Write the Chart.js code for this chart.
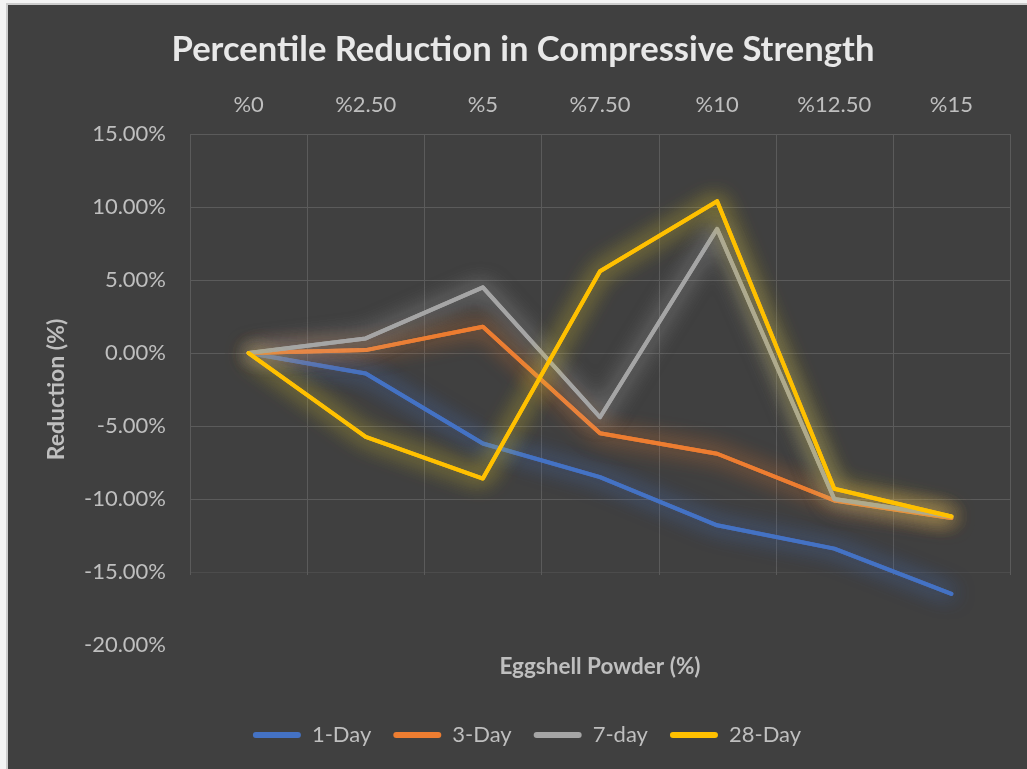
<!DOCTYPE html>
<html>
<head>
<meta charset="utf-8">
<title>Percentile Reduction in Compressive Strength</title>
<script src="https://cdn.jsdelivr.net/npm/chart.js@4.4.1/dist/chart.umd.min.js"></script>
<style>
  html, body { margin: 0; padding: 0; background: #f4f4f4; }
  #frame { position: absolute; left: 6px; top: 3px; width: 1021px; height: 766px; background: #cdcdcd; }
  #wrap { position: absolute; left: 8px; top: 5px; width: 1019px; height: 764px; background: #404040; }
  canvas { display: block; }
</style>
</head>
<body>
<div id="frame"></div>
<div id="wrap"><canvas id="chart" width="1019" height="764"></canvas></div>
<script>
// Eggshell powder replacement levels (x axis, labels at the top)
const categories = ['%0', '%2.50', '%5', '%7.50', '%10', '%12.50', '%15'];

// Reduction in compressive strength, percent, per curing age
const oneDay         = [0, -1.4, -6.2, -8.5, -11.8, -13.4, -16.5];
const threeDay       = [0, 0.2, 1.8, -5.5, -6.9, -10.1, -11.3];
const sevenDay       = [0, 1.0, 4.5, -4.4, 8.5, -10.0, -11.2];
const twentyEightDay = [0, -5.75, -8.6, 5.6, 10.4, -9.3, -11.2];

const seriesNames  = ['1-Day', '3-Day', '7-day', '28-Day'];
const seriesValues = [oneDay, threeDay, sevenDay, twentyEightDay];
const seriesColors = ['#4472c4', '#ed7d31', '#a5a5a5', '#ffc000'];
const glowColors   = ['rgba(68,114,196,0.75)', 'rgba(237,125,49,0.7)', 'rgba(200,200,200,0.6)', 'rgba(225,200,40,0.8)'];

// Y axis range and tick spacing
const yMin = -20, yMax = 15, yStep = 5;
// lowest value reached by the vertical grid lines
const gridFloor = -15;

const FONT = 'Lato, "Open Sans", "DejaVu Sans", sans-serif';
const TEXT = '#bfbfbf';
const GRID = '#5b5b5b';

// soft glow around each line: the line is stroked twice with a blurred shadow
const glowPlugin = {
  id: 'glow',
  beforeDatasetDraw(chart, args) {
    const ctx = chart.ctx;
    ctx.save();
    ctx.shadowColor = glowColors[args.index];
    ctx.shadowBlur = 22;
    ctx.shadowOffsetX = 0;
    ctx.shadowOffsetY = 0;
  },
  afterDatasetDraw(chart, args) {
    args.meta.dataset.draw(chart.ctx, chart.chartArea);
    chart.ctx.restore();
  }
};

// vertical grid lines at category boundaries, stopping at the -15% line
const columnGridPlugin = {
  id: 'columnGrid',
  beforeDatasetsDraw(chart) {
    const ctx = chart.ctx;
    const x = chart.scales.x;
    const y = chart.scales.y;
    const top = chart.chartArea.top;
    const bottom = y.getPixelForValue(gridFloor) + 3;
    ctx.save();
    ctx.strokeStyle = GRID;
    ctx.lineWidth = 1;
    for (let i = 0; i <= categories.length; i++) {
      const px = Math.round(x.getPixelForValue(i - 0.5)) + 0.5;
      ctx.beginPath();
      ctx.moveTo(px, top);
      ctx.lineTo(px, bottom);
      ctx.stroke();
    }
    ctx.restore();
  }
};

// title and legend sit a little right of the canvas centre
const blockShiftPlugin = {
  id: 'blockShift',
  afterLayout(chart) {
    const t = chart.titleBlock;
    if (t) { t.left += 14; t.right += 14; }
    const l = chart.legend;
    if (l) { l.left += 18; l.right += 18; }
  }
};

const datasets = seriesNames.map((name, i) => ({
  label: name,
  data: seriesValues[i],
  borderColor: seriesColors[i],
  backgroundColor: seriesColors[i],
  borderWidth: 4,
  pointRadius: 0,
  pointHoverRadius: 0,
  tension: 0,
  borderJoinStyle: 'round',
  borderCapStyle: 'round',
  fill: false,
  order: seriesNames.length - i
}));

new Chart(document.getElementById('chart'), {
  type: 'line',
  data: { labels: categories, datasets },
  plugins: [glowPlugin, columnGridPlugin, blockShiftPlugin],
  options: {
    responsive: false,
    animation: false,
    events: [],
    layout: { padding: { left: 0, right: 17, top: 0, bottom: 13 } },
    plugins: {
      title: {
        display: true,
        text: 'Percentile Reduction in Compressive Strength',
        color: '#e8e8e8',
        font: { family: FONT, size: 34.6, weight: 'bold' },
        padding: { top: 24.2, bottom: 18.3 }
      },
      legend: {
        display: true,
        position: 'bottom',
        labels: {
          color: TEXT,
          font: { family: FONT, size: 22 },
          boxWidth: 48,
          boxHeight: 6,
          padding: 22,
          sort: (a, b) => a.datasetIndex - b.datasetIndex,
          generateLabels(chart) {
            return chart.data.datasets.map((ds, i) => ({
              text: ds.label,
              fillStyle: ds.borderColor,
              strokeStyle: ds.borderColor,
              fontColor: TEXT,
              lineWidth: 0,
              borderRadius: 3,
              hidden: false,
              datasetIndex: i
            }));
          }
        }
      },
      tooltip: { enabled: false }
    },
    scales: {
      x: {
        position: 'top',
        offset: true,
        grid: { display: false, drawTicks: false },
        border: { display: false },
        ticks: { color: TEXT, font: { family: FONT, size: 22 }, padding: 16, maxRotation: 0 },
        afterFit(scale) { scale.height = 45; }
      },
      x2: {
        type: 'category',
        labels: categories,
        position: 'bottom',
        offset: true,
        grid: { display: false, drawTicks: false },
        border: { display: false },
        ticks: { display: false },
        title: {
          display: true,
          text: 'Eggshell Powder (%)',
          color: TEXT,
          font: { family: FONT, size: 22.5, weight: 'bold' },
          padding: { top: 0, bottom: 21.5 }
        },
        afterFit(scale) { scale.height = 57; }
      },
      y: {
        min: yMin,
        max: yMax,
        grid: {
          drawTicks: false,
          color: ctx => (ctx.tick && ctx.tick.value === yMin) ? 'rgba(0,0,0,0)'
                      : (ctx.tick && ctx.tick.value === gridFloor) ? '#4c4c4c' : GRID,
          lineWidth: 1
        },
        border: { display: false },
        ticks: {
          stepSize: yStep,
          color: TEXT,
          font: { family: FONT, size: 22 },
          padding: 24,
          callback: v => Number(v).toFixed(2) + '%'
        },
        title: {
          display: true,
          text: 'Reduction (%)',
          color: TEXT,
          font: { family: FONT, size: 23, weight: 'bold' },
          padding: { top: 35.2, bottom: 0 }
        },
        afterFit(scale) { scale.width = 182; }
      }
    }
  }
});
</script>
</body>
</html>
